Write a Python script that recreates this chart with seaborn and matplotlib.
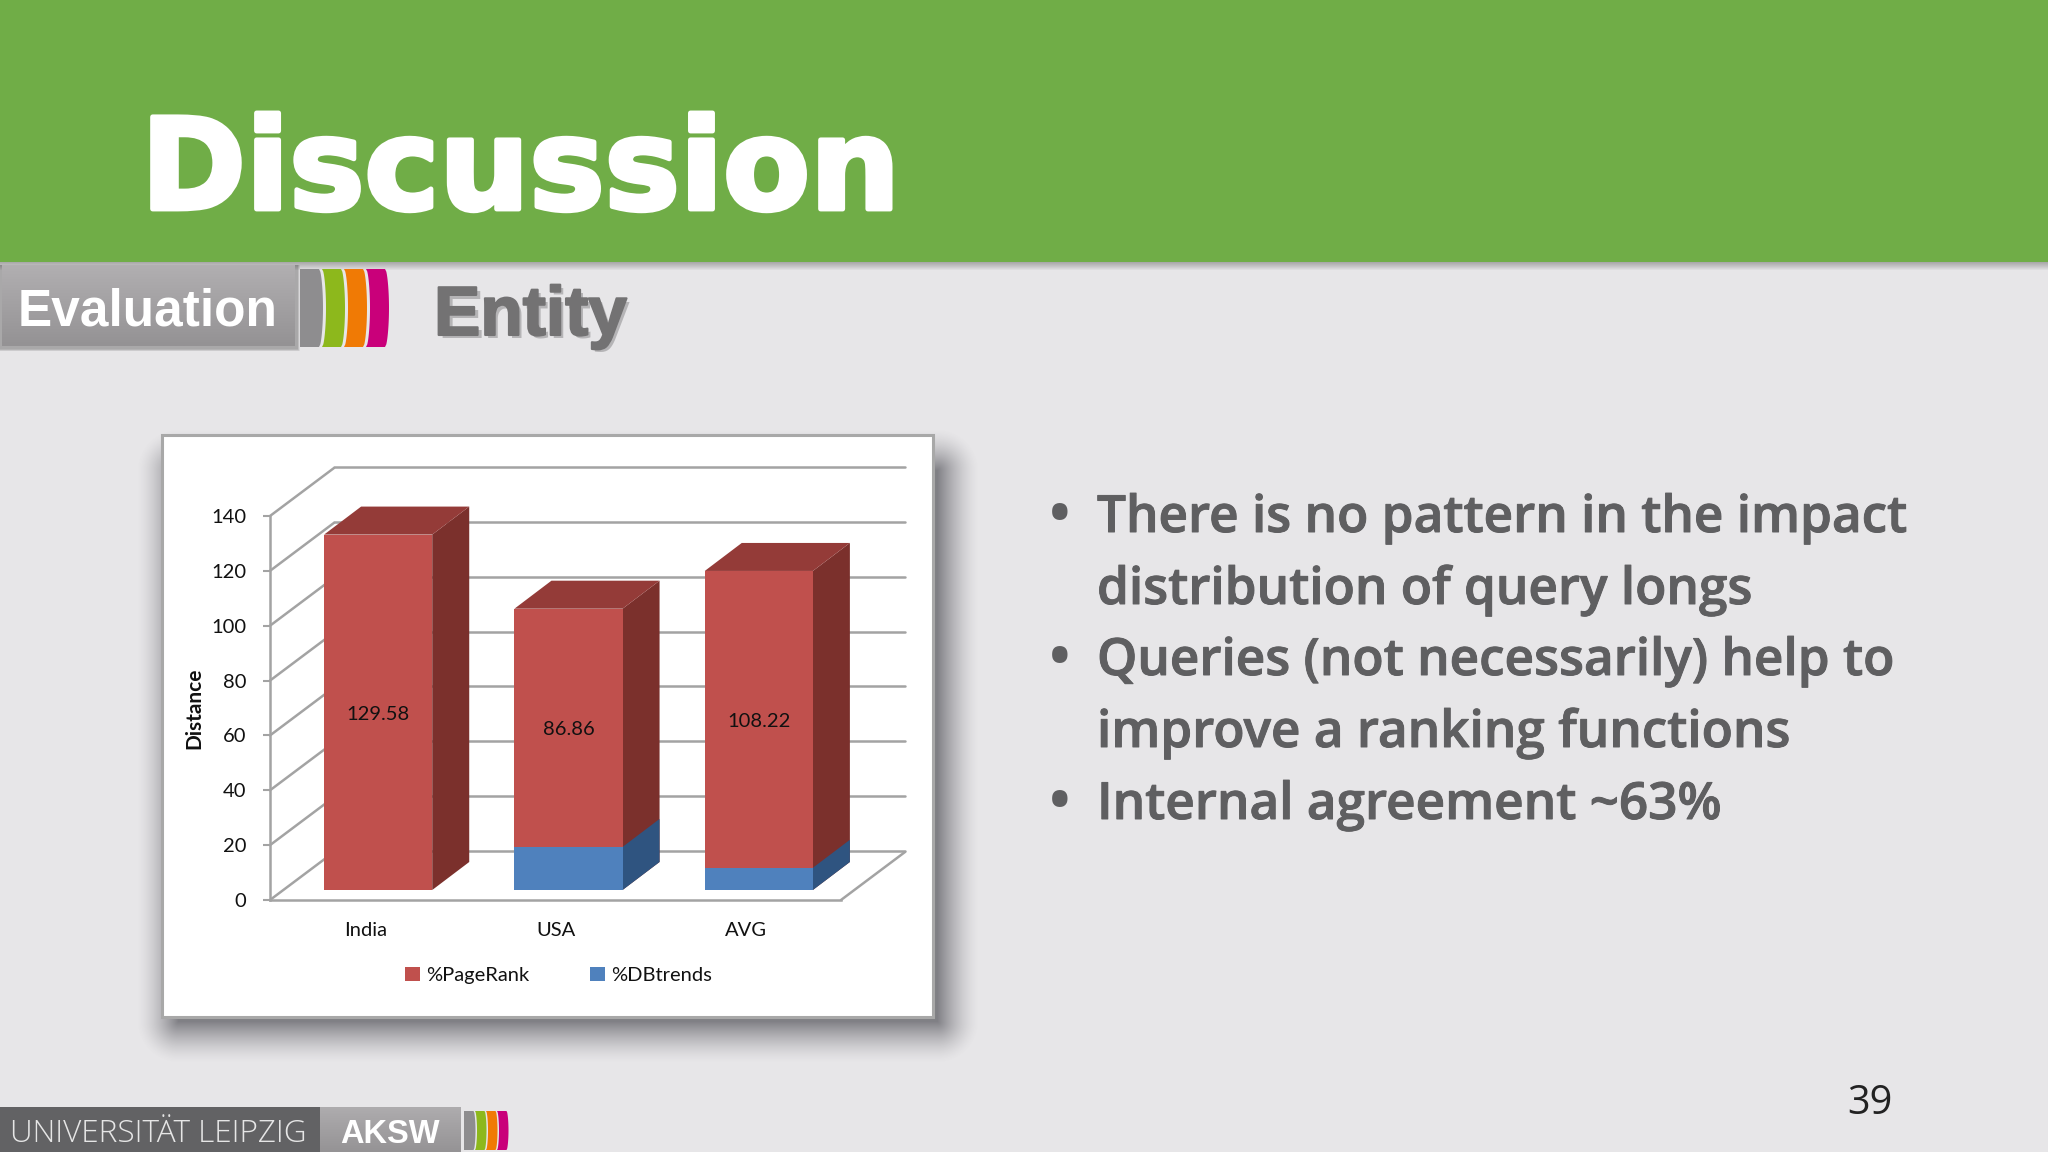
import numpy as np
import matplotlib
matplotlib.use("Agg")
import matplotlib.pyplot as plt
import matplotlib.patheffects as pe
from matplotlib.patches import Rectangle, Polygon
import seaborn as sns

# ---- data ----
categories = ["India", "USA", "AVG"]
pagerank = [129.58, 86.86, 108.22]
dbtrends = [0.0, 15.7, 8.1]
y_ticks = [0, 20, 40, 60, 80, 100, 120, 140]
bullets = ["There is no pattern in the impact", "distribution of query longs",
           "Queries (not necessarily) help to", "improve a ranking functions",
           "Internal agreement ~63%"]
bullet_marks = [True, False, True, False, True]
totals = [a + b for a, b in zip(pagerank, dbtrends)]

W, H = 2048, 1152
RED, RED_SIDE, RED_TOP = "#c0504d", "#7b302c", "#943b38"
BLUE, BLUE_SIDE = "#4f81bd", "#2f5480"
GRID = "#a3a3a3"
BG = "#e7e6e8"
GREEN = "#70ad47"
TXT = "#5f5f61"

sns.set_theme(style="white")
plt.rcParams["font.family"] = ["Lato", "DejaVu Sans"]

fig = plt.figure(figsize=(W / 100, H / 100), dpi=100, facecolor=BG)


def box(x0, y0, x1, y1):
    return [x0 / W, 1 - y1 / H, (x1 - x0) / W, (y1 - y0) / H]


# ---- slide layer (pixel coordinates) ----
bg = fig.add_axes([0, 0, 1, 1], zorder=0)
bg.set_xlim(0, W)
bg.set_ylim(H, 0)
bg.axis("off")
bg.set_autoscale_on(False)


def rect(x0, y0, x1, y1, **kw):
    bg.add_patch(Rectangle((x0, y0), x1 - x0, y1 - y0, linewidth=kw.pop("lw", 0), **kw))


def grad(x0, y0, x1, y1, c0, c1, z=2):
    a = np.array(matplotlib.colors.to_rgb(c0))
    b = np.array(matplotlib.colors.to_rgb(c1))
    t = np.linspace(0, 1, 64)[:, None, None]
    bg.imshow(a[None, None, :] * (1 - t) + b[None, None, :] * t,
              extent=(x0, x1, y1, y0), aspect="auto", zorder=z)


def soft_shadow(x0, y0, x1, y1, blur, strength, z=1):
    xs = np.arange(x0 - blur, x1 + blur)
    ys = np.arange(y0 - blur, y1 + blur)
    gx, gy = np.meshgrid(xs, ys)
    dx = np.maximum(np.maximum(x0 - gx, gx - x1), 0)
    dy = np.maximum(np.maximum(y0 - gy, gy - y1), 0)
    d = np.hypot(dx, dy)
    a = strength * np.clip(1 - d / blur, 0, 1) ** 1.5
    img = np.zeros(a.shape + (4,))
    img[..., :3] = (0.33, 0.33, 0.36)
    img[..., 3] = a
    bg.imshow(img, extent=(xs[0], xs[-1], ys[-1], ys[0]), aspect="auto", zorder=z)


def stripes(x0, y0, scale):
    cols = ["#8e8d8f", "#8db81c", "#f07a05", "#c9007a"]
    ys = np.linspace(0, 1, 30)
    bulge = 4 * scale * np.sin(np.pi * ys) ** 0.5
    h = 78 * scale
    for i, c in enumerate(cols):
        left = x0 + i * 22 * scale + bulge * (0 if i == 0 else 1)
        right = x0 + i * 22 * scale + 19 * scale + bulge
        pts = np.r_[np.c_[left, y0 + ys * h], np.c_[right[::-1], y0 + ys[::-1] * h]]
        bg.add_patch(Polygon(pts, closed=True, facecolor=c, edgecolor="none", zorder=3))


# banner + soft shadow
rect(0, 0, W, 262, facecolor=GREEN, zorder=3)
for i in range(8):
    rect(0, 262, W, 262 + i + 1, facecolor="black", alpha=0.035, zorder=2)
bg.text(141, 209, "Discussion", family="DejaVu Sans", weight="bold", fontsize=91,
        color="white", zorder=4, va="baseline",
        path_effects=[pe.withStroke(linewidth=3.5, foreground="white")])

# section tag
for i in range(5):
    rect(0, 265, 298 + 0.4 * i, 349 + i * 0.6, facecolor="black", alpha=0.06, zorder=1)
grad(2, 265, 295, 346, "#b1afb1", "#949294")
bg.text(18, 326, "Evaluation", family="Liberation Sans", weight="bold", fontsize=37,
        color="white", zorder=4, va="baseline")
stripes(300, 269, 1.0)
entity_kw = dict(family="Liberation Sans", weight="bold", fontsize=50, va="baseline")
bg.text(437, 338, "Entity", color="#a9a8aa", zorder=3, alpha=0.8, **entity_kw)
bg.text(434, 335, "Entity", color="#737273", zorder=4,
        path_effects=[pe.withStroke(linewidth=1.5, foreground="#737273")], **entity_kw)

# chart card + shadow
soft_shadow(178, 470, 938, 1022, 42, 0.7)
rect(162, 435, 933, 1017, facecolor="white", edgecolor="#a8a8a8", lw=2.2, zorder=2)

# bullets
for line, mark, yb in zip(bullets, bullet_marks, [532, 604, 675, 747, 819]):
    if mark:
        bg.text(1060, yb + 6, "•", family="Open Sans", fontsize=53, color=TXT, ha="center",
                va="baseline", zorder=4)
    bg.text(1097, yb, line, family="Open Sans", weight="semibold", fontsize=36.9, color=TXT,
            va="baseline", zorder=4,
            path_effects=[pe.withStroke(linewidth=0.7, foreground=TXT)])

# footer
rect(0, 1107, 320, H, facecolor="#626264", zorder=3)
grad(320, 1107, 461, H, "#aeacae", "#959395")
bg.text(10, 1142, "UNIVERSITÄT LEIPZIG", family="Open Sans", weight="light", fontsize=22.7,
        color="#e6e6e6", zorder=4, va="baseline")
bg.text(390, 1143, "AKSW", family="Liberation Sans", weight="bold", fontsize=23.5, color="white",
        ha="center", zorder=4, va="baseline")
stripes(464, 1111, 0.5)
bg.text(1870, 1114, "39", family="Open Sans", fontsize=28.5, color="#222222", ha="center",
        va="baseline", zorder=4)

# ---- chart geometry ----
FX0, FX1, FY0, FY1 = 270, 841, 516, 900  # front plane of the axes box
XLIM, YLIM = (-0.5, 2.5), (0, 140)
px_x = (FX1 - FX0) / 3
px_y = (FY1 - FY0) / 140
WALL_DX, WALL_DY = 64 / px_x, 48 / px_y
BAR_DX, BAR_DY = 37 / px_x, 28 / px_y

# back wall with gridlines
back = fig.add_axes(box(FX0 + 64, FY0 - 49, FX1 + 64, FY1 - 49), zorder=1, facecolor="none")
back.set_xlim(XLIM)
back.set_ylim(YLIM)
back.set_yticks(y_ticks)
back.set_xticks([])
back.tick_params(length=0, labelleft=False)
back.grid(True, axis="y", color=GRID, lw=1.8)
for g in back.get_ygridlines():
    g.set_clip_on(False)
for s in back.spines.values():
    s.set_visible(False)

# front axes: tick labels, axis lines, floor
ax = fig.add_axes(box(FX0, FY0, FX1, FY1), zorder=2, facecolor="none")
ax.set_xlim(XLIM)
ax.set_ylim(YLIM)
ax.set_xticks(range(3), categories)
ax.set_yticks(y_ticks)
ax.tick_params(axis="y", length=5, width=1.5, color=GRID, pad=12, labelsize=14.5, labelcolor="#111111", left=True)
ax.tick_params(axis="x", length=0, pad=16, labelsize=14.5, labelcolor="#111111")
ax.set_ylabel("Distance", fontsize=15, fontweight="bold", color="#111111", labelpad=5)
for name in ("top", "right"):
    ax.spines[name].set_visible(False)
for name in ("left", "bottom"):
    ax.spines[name].set_color(GRID)
    ax.spines[name].set_linewidth(1.8)
for t in y_ticks:
    ax.plot([XLIM[0], XLIM[0] + WALL_DX], [t, t + WALL_DY], color=GRID, lw=1.8, clip_on=False, zorder=1)
ax.plot([XLIM[1], XLIM[1] + WALL_DX], [0, WALL_DY], color=GRID, lw=1.8, clip_on=False, zorder=1)

# bars
bars = fig.add_axes(box(FX0 + 13, FY0 - 10, FX1 + 13, FY1 - 10), zorder=3, facecolor="none")
sns.barplot(x=categories, y=totals, color=RED, saturation=1, width=0.568, ax=bars,
            label="%PageRank", zorder=4, linewidth=0)
n_red = len(bars.patches)
sns.barplot(x=categories, y=dbtrends, color=BLUE, saturation=1, width=0.568, ax=bars,
            label="%DBtrends", zorder=4, linewidth=0)
bars.set_xlim(XLIM)
bars.set_ylim(YLIM)
bars.axis("off")


def side(p, c):
    x, y, w, h = p.get_x() + p.get_width(), p.get_y(), BAR_DX, p.get_height()
    bars.add_patch(Polygon([(x, y), (x + w, y + BAR_DY), (x + w, y + h + BAR_DY), (x, y + h)],
                           closed=True, facecolor=c, edgecolor="none", clip_on=False, zorder=3))


def top(p, c):
    x, y, w = p.get_x(), p.get_y() + p.get_height(), p.get_width()
    bars.add_patch(Polygon([(x, y), (x + BAR_DX, y + BAR_DY), (x + w + BAR_DX, y + BAR_DY), (x + w, y)],
                           closed=True, facecolor=c, edgecolor="none", clip_on=False, zorder=3))


for p in bars.patches[:n_red]:
    side(p, RED_SIDE)
    top(p, RED_TOP)
for p in bars.patches[n_red:n_red + 3]:
    side(p, BLUE_SIDE)
    p.set_zorder(5)
for i, (v, b) in enumerate(zip(pagerank, dbtrends)):
    bars.text(i, b + v / 2 - 0.7, f"{v:.2f}", ha="center", va="center", fontsize=14.5, color="#111111", zorder=6)

handles, labels = bars.get_legend_handles_labels()
leg = bars.legend(handles, labels, ncol=2, frameon=False, loc="center", fontsize=14.5,
                  bbox_to_anchor=(0.483, -0.222), handlelength=0.75, handleheight=0.75,
                  handletextpad=0.3, columnspacing=3.0, labelcolor="#111111")

fig.savefig("out.png", dpi=100, facecolor=BG)
